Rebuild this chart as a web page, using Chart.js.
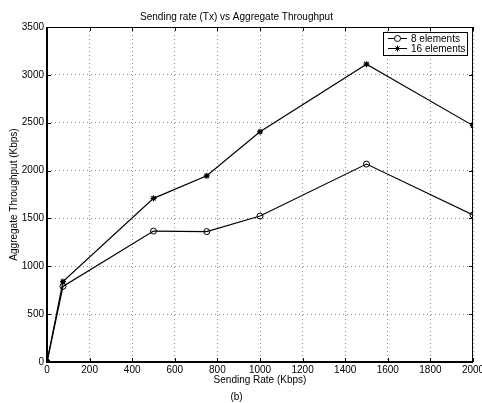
<!DOCTYPE html>
<html>
<head>
<meta charset="utf-8">
<script src="https://cdn.jsdelivr.net/npm/chart.js@4.4.0/dist/chart.umd.min.js"></script>
<style>
  html, body { margin: 0; padding: 0; background: #fff; }
  #wrap { width: 482px; height: 403px; }
</style>
</head>
<body>
<div id="wrap"><canvas id="myChart" width="482" height="403"></canvas></div>
<script>
// sending rate (Kbps)
var rates = [0, 75, 500, 750, 1000, 1500, 2000];
var elements8 = [0, 790, 1368, 1362, 1525, 2068, 1536];
var elements16 = [0, 840, 1710, 1945, 2405, 3112, 2470];
var xTicks = [0, 200, 400, 600, 800, 1000, 1200, 1400, 1600, 1800, 2000];
var yTicks = [0, 500, 1000, 1500, 2000, 2500, 3000, 3500];

var FONT = 'Liberation Sans, Arial, Helvetica, sans-serif';

function pts(xs, ys) {
    return xs.map(function (x, i) { return { x: x, y: ys[i] }; });
}

// solid frame + inward tick marks, like matlab, and the legend box
var framePlugin = {
    id: 'frame',
    afterDraw: function (chart) {
        var c = chart.ctx, a = chart.chartArea;
        var xs = chart.scales.x, ys = chart.scales.y;
        c.save();
        c.setLineDash([]);
        c.strokeStyle = '#000';
        c.lineWidth = 1;
        c.beginPath();
        c.moveTo(a.left, a.top + 0.5); c.lineTo(a.right, a.top + 0.5);
        c.moveTo(a.right - 0.5, a.top); c.lineTo(a.right - 0.5, a.bottom);
        xTicks.forEach(function (v) {
            var px = Math.round(xs.getPixelForValue(v)) + 0.5;
            c.moveTo(px, a.bottom); c.lineTo(px, a.bottom - 4);
            c.moveTo(px, a.top); c.lineTo(px, a.top + 4);
        });
        yTicks.forEach(function (v) {
            var py = Math.round(ys.getPixelForValue(v)) + 0.5;
            c.moveTo(a.left, py); c.lineTo(a.left + 4, py);
            c.moveTo(a.right, py); c.lineTo(a.right - 4, py);
        });
        c.stroke();
        c.lineWidth = 2;
        c.beginPath();
        c.moveTo(a.left, a.top); c.lineTo(a.left, a.bottom); c.lineTo(a.right, a.bottom);
        c.stroke();

        // legend box
        var bx = 383, by = 32, bw = 84, bh = 23;
        c.fillStyle = '#fff';
        c.fillRect(bx, by, bw, bh);
        c.lineWidth = 1;
        c.strokeRect(bx + 0.5, by + 0.5, bw, bh);
        c.font = '10px ' + FONT;
        c.textBaseline = 'middle';
        c.textAlign = 'left';
        chart.data.datasets.forEach(function (ds, i) {
            var ly = by + 6.5 + i * 10;
            c.beginPath();
            c.moveTo(388, ly); c.lineTo(407, ly);
            c.strokeStyle = '#000';
            c.stroke();
            Chart.helpers.drawPoint(c, {
                pointStyle: ds.pointStyle, radius: ds.pointRadius,
                borderWidth: 1, rotation: 0
            }, 397.5, ly);
            c.fillStyle = '#000';
            c.fillText(ds.label, 411, ly + 0.5);
        });
        c.restore();
    }
};

function plain(v) { return String(v); }

var ctx = document.getElementById('myChart').getContext('2d');
var myChart = new Chart(ctx, {
    type: 'line',
    data: {
        datasets: [{
            label: '8 elements',
            data: pts(rates, elements8),
            borderColor: '#000',
            borderWidth: 1.2,
            pointStyle: 'circle',
            pointRadius: 3,
            pointBackgroundColor: 'rgba(0,0,0,0)',
            pointBorderColor: '#000',
            pointBorderWidth: 1
        }, {
            label: '16 elements',
            data: pts(rates, elements16),
            borderColor: '#000',
            borderWidth: 1.2,
            pointStyle: 'star',
            pointRadius: 3,
            pointBackgroundColor: '#000',
            pointBorderColor: '#000',
            pointBorderWidth: 1.2
        }]
    },
    options: {
        responsive: false,
        animation: false,
        layout: { padding: { left: 0, right: 9, top: 0, bottom: 0 } },
        plugins: {
            legend: { display: false },
            tooltip: { enabled: false },
            title: {
                display: true,
                text: 'Sending rate (Tx) vs Aggregate Throughput',
                color: '#000',
                font: { family: FONT, size: 10, weight: 'normal' },
                padding: { top: 11, bottom: 4 }
            },
            subtitle: {
                display: true,
                position: 'bottom',
                text: '(b)',
                color: '#000',
                font: { family: FONT, size: 10, weight: 'normal' },
                padding: { top: 4, bottom: 0 }
            }
        },
        scales: {
            x: {
                type: 'linear',
                min: 0, max: 2000,
                afterBuildTicks: function (s) { s.ticks = xTicks.map(function (v) { return { value: v }; }); },
                afterFit: function (s) { s.height = 25; s.paddingLeft = 0; s.paddingRight = 0; },
                border: { display: false, dash: [1, 3] },
                grid: { color: '#888', lineWidth: 1, drawTicks: false },
                ticks: { color: '#000', font: { family: FONT, size: 10 }, padding: 2, maxRotation: 0, callback: plain },
                title: {
                    display: true,
                    text: 'Sending Rate (Kbps)',
                    color: '#000',
                    font: { family: FONT, size: 10 },
                    padding: { top: 0, bottom: 1 }
                }
            },
            y: {
                type: 'linear',
                min: 0, max: 3500,
                afterBuildTicks: function (s) { s.ticks = yTicks.map(function (v) { return { value: v }; }); },
                afterFit: function (s) { s.width = 47; },
                border: { display: false, dash: [1, 3] },
                grid: { color: '#888', lineWidth: 1, drawTicks: false },
                ticks: { color: '#000', font: { family: FONT, size: 10 }, padding: 3, callback: plain },
                title: {
                    display: true,
                    text: 'Aggregate Throughput (Kbps)',
                    color: '#000',
                    font: { family: FONT, size: 10 },
                    padding: { top: 8, bottom: 0 }
                }
            }
        }
    },
    plugins: [framePlugin]
});
</script>
</body>
</html>
